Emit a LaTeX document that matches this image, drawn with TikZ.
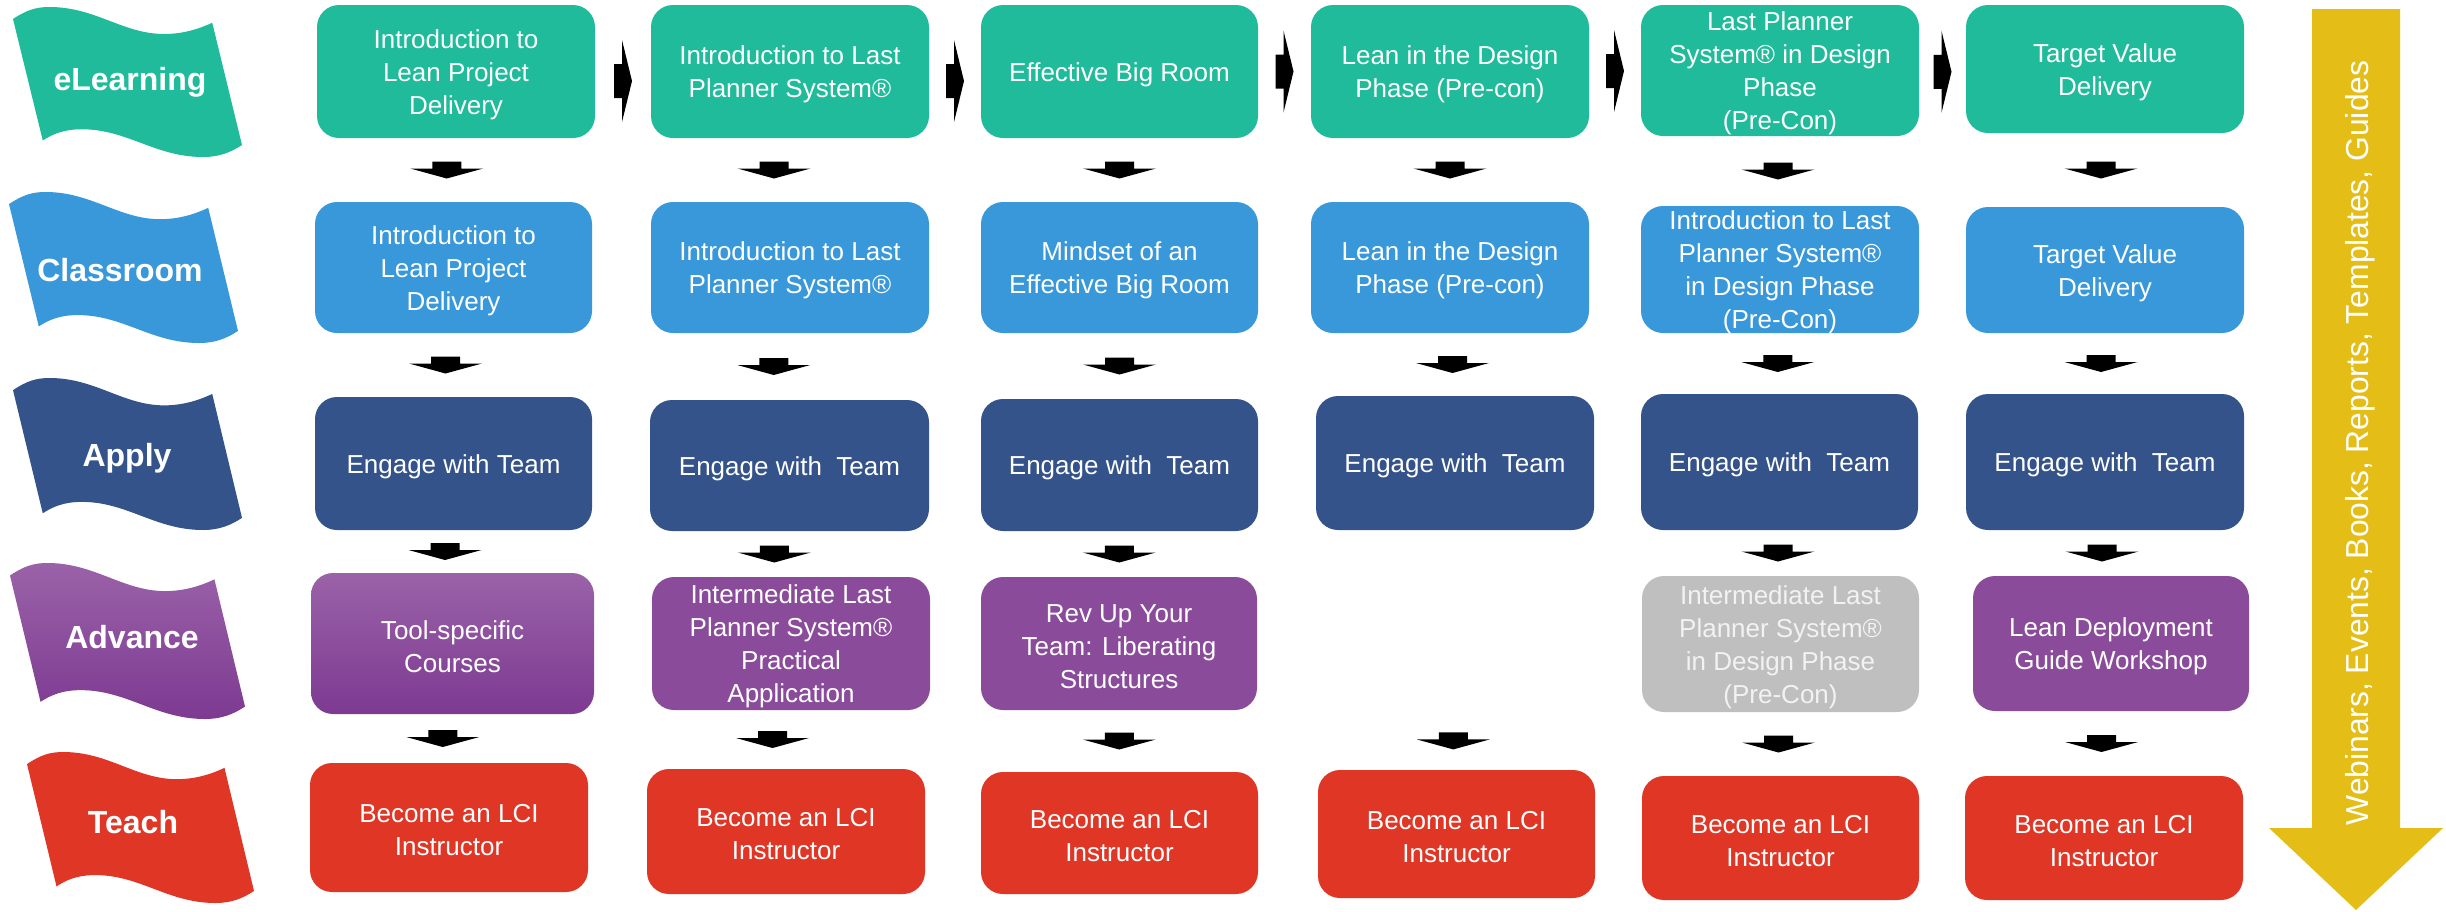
\documentclass[tikz,border=0pt]{standalone}
\usepackage{fontspec}
\setmainfont{Liberation Sans}
\usetikzlibrary{calc}
\definecolor{cteal}{HTML}{1FBB9B}
\definecolor{cblue}{HTML}{3898DA}
\definecolor{cnavy}{HTML}{34538A}
\definecolor{cpurple}{HTML}{8A4B9B}
\definecolor{cpurtop}{HTML}{9A62A8}
\definecolor{cpurbot}{HTML}{7D3A91}
\definecolor{cgrey}{HTML}{BFBFBF}
\definecolor{cgreytext}{HTML}{F2F2F2}
\definecolor{cred}{HTML}{DF3626}
\definecolor{cyellow}{HTML}{E4BE16}

\tikzset{
  box/.style={rectangle, rounded corners=22pt, inner sep=0pt},
  boxtxt/.style={text=white, align=center, inner sep=0pt,
    font=\fontsize{26}{33}\selectfont},
  flagtxt/.style={text=white, font=\bfseries\fontsize{32}{38}\selectfont, inner sep=0pt},
  blockarrow/.style={fill=black},
  bigtxt/.style={text=white, font=\fontsize{31.8}{36}\selectfont, rotate=90, inner sep=0pt}
}

% name, x1,y1,x2,y2, box style, text style, text
\newcommand{\mybox}[8]{%
  \pgfmathsetmacro{\bxcx}{(#2+#4)/2}%
  \pgfmathsetmacro{\bxcy}{(#3+#5)/2}%
  \pgfmathsetmacro{\bxw}{#4-#2}%
  \pgfmathsetmacro{\bxh}{#5-#3}%
  \node[box,#6,minimum width=\bxw pt,minimum height=\bxh pt] (#1) at (\bxcx,\bxcy) {};%
  \node[boxtxt,#7] (#1-t) at ($(#1.center)+(0,3)$) {#8};%
}
\newcommand{\myflag}[5]{%
  \pgfmathsetmacro{\flagW}{#3-#1}%
  \pgfmathsetmacro{\flagH}{#4-#2}%
  \begin{scope}[shift={(#1,#2)},xscale=\flagW,yscale=\flagH]
    \path[#5] (0,0.08) .. controls (0.06,0.02) and (0.1,0) .. (0.16,0)
      .. controls (0.36,0) and (0.48,0.18) .. (0.66,0.18)
      .. controls (0.75,0.18) and (0.82,0.14) .. (0.87,0.105)
      -- (1,0.92)
      .. controls (0.95,0.97) and (0.9,1.0) .. (0.83,1.0)
      .. controls (0.62,1.0) and (0.5,0.815) .. (0.3,0.815)
      .. controls (0.22,0.815) and (0.17,0.85) .. (0.13,0.89) -- cycle;
  \end{scope}%
}
\newcommand{\darr}[3]{%
  \begin{scope}[shift={($(#1.south)!0.5!(#2.north)+(#3,0)$)}]
    \path[blockarrow] (-14.5,-8.5) -- (14.5,-8.5) -- (14.5,-1.5) -- (36.5,-1.5) -- (0,8.5)
      -- (-36.5,-1.5) -- (-14.5,-1.5) -- cycle;
  \end{scope}%
}
\newcommand{\rarr}[3]{%
  \begin{scope}[shift={($(#1.east)!0.5!(#2.west)+(0,#3)$)}]
    \path[blockarrow] (-9,-17) -- (-1,-17) -- (-1,-41) -- (9,0) -- (-1,41) -- (-1,17)
      -- (-9,17) -- cycle;
  \end{scope}%
}

\begin{document}
\begin{tikzpicture}[x=1pt,y=-1pt]
\fill[white] (0,0) rectangle (2446,911);
\useasboundingbox (0,0) rectangle (2446,911);

% flags
\myflag{13}{7}{242}{157}{fill=cteal}
\myflag{9}{192}{238}{343}{fill=cblue}
\myflag{13}{378}{242}{530}{fill=cnavy}
\myflag{10}{563}{245}{719}{top color=cpurtop,bottom color=cpurbot}
\myflag{27}{752}{254}{903}{fill=cred}
\node[flagtxt] (fE) at (130,82) {eLearning};
\node[flagtxt] (fC) at (120,270) {Classroom};
\node[flagtxt] (fA) at (127,458) {Apply};
\node[flagtxt] (fV) at (132,637) {Advance};
\node[flagtxt] (fT) at (133,822) {Teach};

% eLearning row
\mybox{E1}{317}{5}{595}{138}{fill=cteal}{}{Introduction to\\Lean Project\\Delivery}
\mybox{E2}{651}{5}{929}{138}{fill=cteal}{}{Introduction to Last\\Planner System®}
\mybox{E3}{981}{5}{1258}{138}{fill=cteal}{}{Effective Big Room}
\mybox{E4}{1311}{5}{1589}{138}{fill=cteal}{}{Lean in the Design\\Phase (Pre-con)}
\mybox{E5}{1641}{5}{1919}{136}{fill=cteal}{}{Last Planner\\System® in Design\\Phase\\(Pre-Con)}
\mybox{E6}{1966}{5}{2244}{133}{fill=cteal}{}{Target Value\\Delivery}

% Classroom row
\mybox{C1}{315}{202}{592}{333}{fill=cblue}{}{Introduction to\\Lean Project\\Delivery}
\mybox{C2}{651}{202}{929}{333}{fill=cblue}{}{Introduction to Last\\Planner System®}
\mybox{C3}{981}{202}{1258}{333}{fill=cblue}{}{Mindset of an\\Effective Big Room}
\mybox{C4}{1311}{202}{1589}{333}{fill=cblue}{}{Lean in the Design\\Phase (Pre-con)}
\mybox{C5}{1641}{206}{1919}{333}{fill=cblue}{}{Introduction to Last\\Planner System®\\in Design Phase\\(Pre-Con)}
\mybox{C6}{1966}{207}{2244}{333}{fill=cblue}{}{Target Value\\Delivery}

% Apply row
\mybox{A1}{315}{397}{592}{530}{fill=cnavy}{}{Engage with Team}
\mybox{A2}{650}{400}{929}{531}{fill=cnavy}{}{Engage with\ \ Team}
\mybox{A3}{981}{399}{1258}{531}{fill=cnavy}{}{Engage with\ \ Team}
\mybox{A4}{1316}{396}{1594}{530}{fill=cnavy}{}{Engage with\ \ Team}
\mybox{A5}{1641}{394}{1918}{530}{fill=cnavy}{}{Engage with\ \ Team}
\mybox{A6}{1966}{394}{2244}{530}{fill=cnavy}{}{Engage with\ \ Team}

% Advance row
\mybox{V1}{311}{573}{594}{714}{top color=cpurtop,bottom color=cpurbot}{}{Tool-specific\\Courses}
\mybox{V2}{652}{577}{930}{710}{fill=cpurple}{}{Intermediate Last\\Planner System®\\Practical\\Application}
\mybox{V3}{981}{577}{1257}{710}{fill=cpurple}{}{Rev Up Your\\Team: Liberating\\Structures}
\coordinate (V4) at (1450,712);
\mybox{V5}{1642}{576}{1919}{712}{fill=cgrey}{text=cgreytext}{Intermediate Last\\Planner System®\\in Design Phase\\(Pre-Con)}
\mybox{V6}{1973}{576}{2249}{711}{fill=cpurple}{}{Lean Deployment\\Guide Workshop}

% Teach row
\mybox{T1}{310}{763}{588}{892}{fill=cred}{}{Become an LCI\\Instructor}
\mybox{T2}{647}{769}{925}{894}{fill=cred}{}{Become an LCI\\Instructor}
\mybox{T3}{981}{772}{1258}{894}{fill=cred}{}{Become an LCI\\Instructor}
\mybox{T4}{1318}{770}{1595}{898}{fill=cred}{}{Become an LCI\\Instructor}
\mybox{T5}{1642}{776}{1919}{900}{fill=cred}{}{Become an LCI\\Instructor}
\mybox{T6}{1965}{776}{2243}{900}{fill=cred}{}{Become an LCI\\Instructor}

% right arrows
\rarr{E1}{E2}{9.5}
\rarr{E2}{E3}{9.5}
\rarr{E3}{E4}{0}
\rarr{E4}{E5}{0}
\rarr{E5}{E6}{2}

% down arrows
\darr{E1}{C1}{-8}\darr{C1}{A1}{-8}\darr{A1}{V1}{-8}\darr{V1}{T1}{-8}
\darr{E2}{C2}{-16}\darr{C2}{A2}{-16}\darr{A2}{V2}{-16}\darr{V2}{T2}{-16}
\darr{E3}{C3}{0}\darr{C3}{A3}{0}\darr{A3}{V3}{0}\darr{V3}{T3}{0}
\darr{E4}{C4}{0}\darr{C4}{A4}{0}
\begin{scope}[shift={($(V4)!0.5!(T4.north)$)}]
  \path[blockarrow] (-14.5,-8.5) -- (14.5,-8.5) -- (14.5,-1.5) -- (36.5,-1.5) -- (0,8.5)
    -- (-36.5,-1.5) -- (-14.5,-1.5) -- cycle;
\end{scope}
\darr{E5}{C5}{-2}\darr{C5}{A5}{-2}\darr{A5}{V5}{-2}\darr{V5}{T5}{-2}
\darr{E6}{C6}{-4}\darr{C6}{A6}{-4}\darr{A6}{V6}{-6}\darr{V6}{T6}{-6}

% yellow arrow
\fill[cyellow] (2312,9) -- (2400,9) -- (2400,828) -- (2443,828) -- (2356,910)
  -- (2269,828) -- (2312,828) -- cycle;
\node[bigtxt] (res) at (2360,443) {Webinars, Events, Books, Reports, Templates, Guides};
\end{tikzpicture}
\end{document}
